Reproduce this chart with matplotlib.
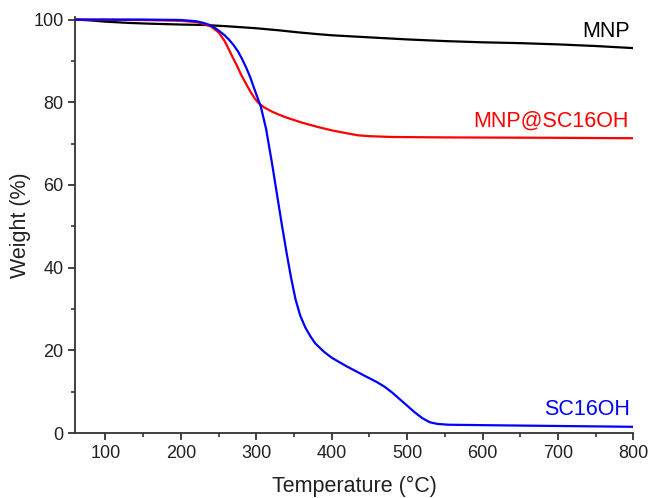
import matplotlib
matplotlib.use("Agg")
import matplotlib.pyplot as plt
from matplotlib.ticker import MultipleLocator

plt.rcParams['font.family'] = ['Liberation Sans', 'DejaVu Sans']

# --- TGA data ---
temp_mnp = [60, 80, 100, 130, 160, 200, 230, 260, 300, 330, 356, 380, 400, 450, 500, 550, 600,
            650, 700, 750, 800]
wt_mnp = [100.0, 99.8, 99.5, 99.2, 99.0, 98.8, 98.7, 98.4, 97.9, 97.4, 96.9, 96.5, 96.2, 95.7,
          95.2, 94.8, 94.5, 94.3, 94.0, 93.6, 93.1]

temp_sc = [60, 150, 200, 220, 230, 238, 245, 251, 258, 264, 270, 276, 281, 287, 292, 298, 306,
           313, 321, 328, 334, 340, 346, 352, 358, 365, 372, 378, 390, 400, 420, 444, 460, 470,
           480, 490, 500, 510, 520, 530, 540, 555, 600, 700, 800]
wt_sc = [100.0, 100.0, 99.9, 99.6, 99.2, 98.7, 98.0, 97.2, 96.2, 95.1, 93.8, 92.2, 90.5, 88.2,
         86.0, 82.9, 78.9, 73.5, 65.0, 57.0, 50.2, 43.7, 37.6, 32.3, 28.5, 25.5, 23.3, 21.7,
         19.6, 18.2, 16.1, 13.8, 12.3, 11.2, 9.8, 8.2, 6.6, 5.0, 3.6, 2.6, 2.2, 2.0, 1.9, 1.7, 1.5]

temp_mnpsc = [60, 150, 200, 220, 230, 240, 250, 258, 264, 270, 275, 280, 286, 292, 298, 303, 310,
              320, 330, 340, 350, 360, 370, 382, 400, 420, 435, 450, 480, 550, 700, 800]
wt_mnpsc = [100.0, 99.9, 99.7, 99.4, 99.0, 98.3, 96.9, 94.8, 92.6, 90.4, 88.6, 86.6, 84.6, 82.6,
            80.9, 79.8, 78.8, 77.8, 77.0, 76.3, 75.7, 75.1, 74.6, 74.0, 73.2, 72.5, 72.0, 71.8,
            71.6, 71.5, 71.4, 71.3]

fig = plt.figure(figsize=(6.48, 4.98), dpi=100)
ax = fig.add_axes([0.1162, 0.1305, 0.8614, 0.8360])

ax.plot(temp_mnp, wt_mnp, color='black', lw=1.6)
ax.plot(temp_mnpsc, wt_mnpsc, color='#ff0000', lw=1.6)
ax.plot(temp_sc, wt_sc, color='#0000ff', lw=1.6)

ax.text(795, 97.0, 'MNP', color='black', fontsize=15.5, ha='right', va='center')
ax.text(793, 75.5, 'MNP@SC16OH', color='#ff0000', fontsize=15.5, ha='right', va='center')
ax.text(795, 5.6, 'SC16OH', color='#0000ff', fontsize=15.5, ha='right', va='center')

ax.set_xlim(60, 800)
ax.set_ylim(0, 100.7)
ax.xaxis.set_major_locator(MultipleLocator(100))
ax.xaxis.set_minor_locator(MultipleLocator(50))
ax.yaxis.set_major_locator(MultipleLocator(20))
ax.yaxis.set_minor_locator(MultipleLocator(10))

for s in ['top', 'right']:
    ax.spines[s].set_visible(False)
for s in ['left', 'bottom']:
    ax.spines[s].set_linewidth(1.3)
    ax.spines[s].set_color('#333333')

ax.tick_params(which='major', direction='out', length=5, width=1.3, color='#333333',
               labelsize=13, labelcolor='#222222')
ax.tick_params(which='minor', direction='out', length=3, width=1.2, color='#333333')

ax.set_xlabel('Temperature (°C)', fontsize=15.5, color='#222222', labelpad=10)
ax.set_ylabel('Weight (%)', fontsize=15.5, color='#222222', labelpad=1.5)

fig.savefig('out.png', dpi=100, facecolor='white')
